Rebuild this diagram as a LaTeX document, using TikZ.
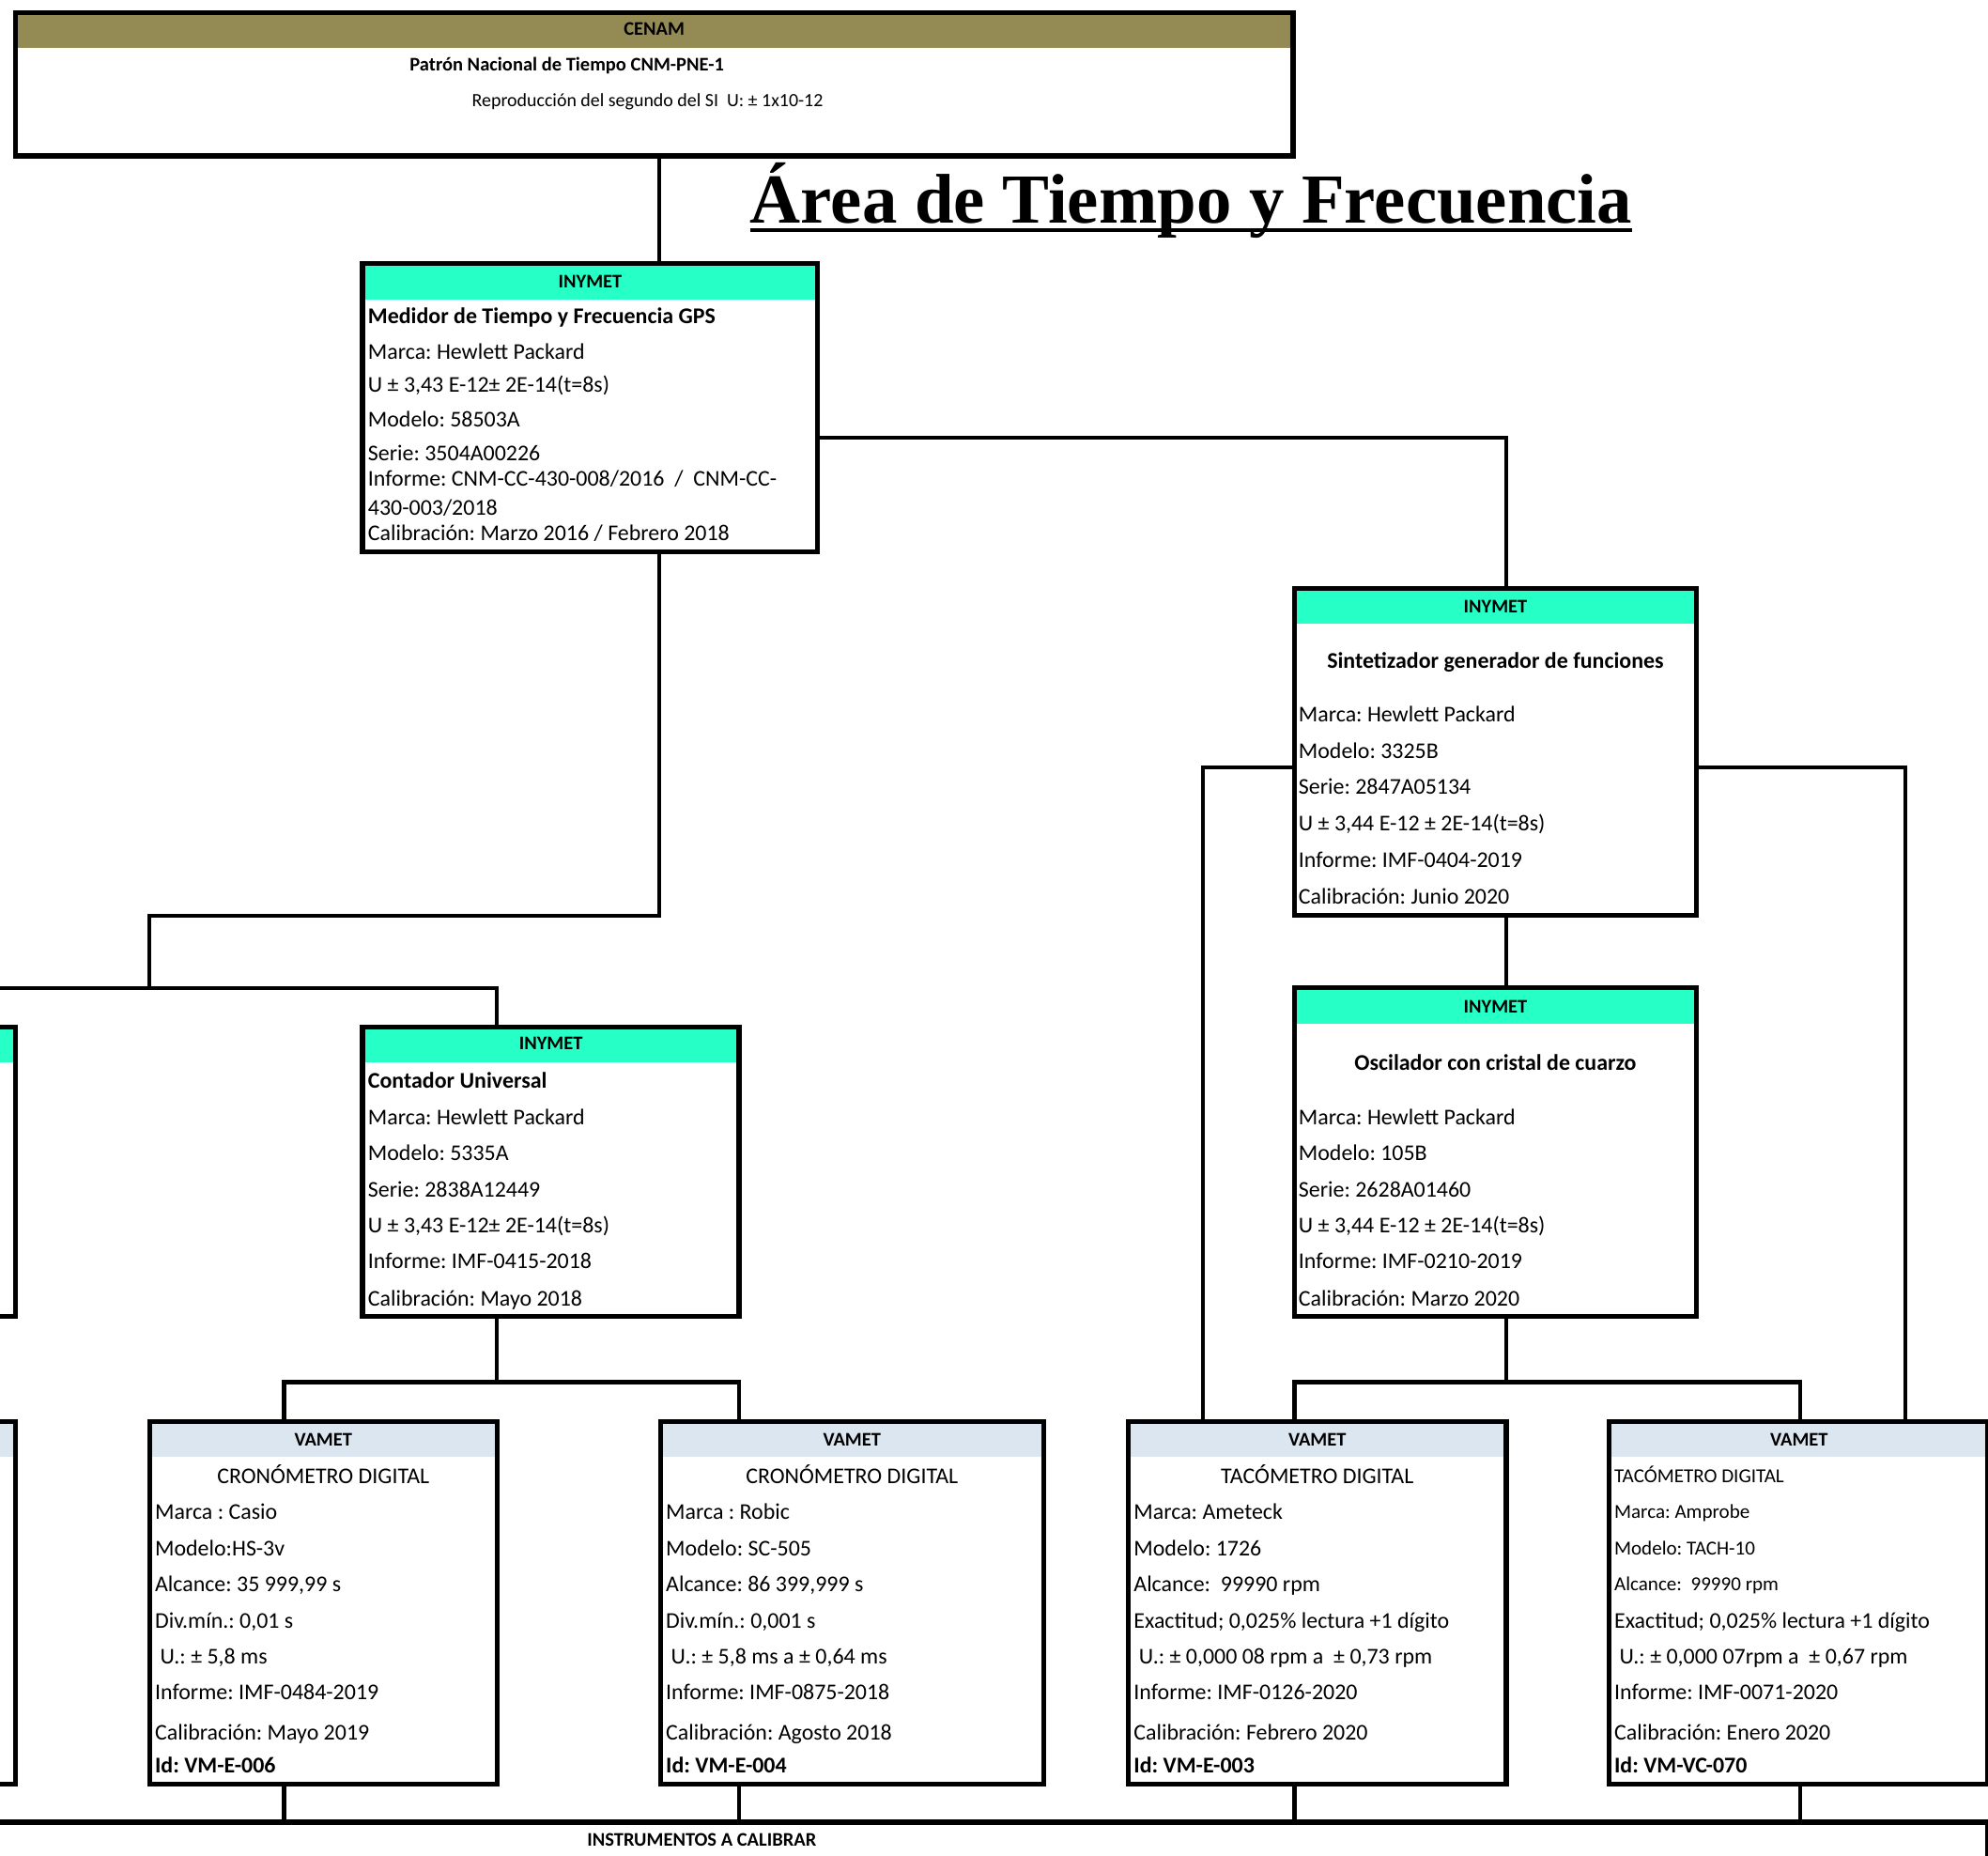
\documentclass[tikz,border=0pt]{standalone}
\usepackage{fontspec}
\setmainfont{Carlito}
\newfontfamily\titlefont{Liberation Serif}
\usetikzlibrary{calc,positioning,fit}
\frenchspacing

\definecolor{cenamolive}{HTML}{948A54}
\definecolor{inymetgreen}{HTML}{26FFC6}
\definecolor{vametblue}{HTML}{DCE6F1}

\begin{document}
\begin{tikzpicture}[x=0.025cm, y=-0.025cm]
    \tikzstyle{box}=[draw, line width=2.8pt, inner sep=0pt]
    \tikzstyle{link}=[line width=2.3pt]
    \tikzstyle{txt}=[inner sep=0pt, anchor=base west, font=\fontsize{12.6}{15}\selectfont]
    \tikzstyle{small txt}=[txt, font=\fontsize{11.1}{13}\selectfont]
    \tikzstyle{hd}=[inner sep=0pt, anchor=base, font=\fontsize{10.8}{13}\selectfont\bfseries]
    \tikzset{head/.style={path picture={
      \fill[#1] (path picture bounding box.north west) rectangle ([yshift=-0.7cm]path picture bounding box.north east);}}}

    \useasboundingbox (0,0) rectangle (1568,1463);
    \clip (0,0) rectangle (1568,1463);

    % boxes
    \node[box, head=cenamolive, fit={(12,10) (1020,123)}] (cenam) {};
    \node[box, head=inymetgreen, fit={(286,208) (645,435)}] (gps) {};
    \node[box, head=inymetgreen, fit={(1021,464) (1338,722)}] (sint) {};
    \node[box, head=inymetgreen, fit={(1021,779) (1338,1038)}] (osc) {};
    \node[box, head=inymetgreen, fit={(286,810) (583,1038)}] (cont) {};
    \node[box, head=inymetgreen, fit={(-60,810) (12,1038)}] (leftA) {};
    \node[box, head=vametblue, fit={(-60,1121) (12,1407)}] (leftB) {};
    \node[box, head=vametblue, fit={(118,1121) (392,1407)}] (cronA) {};
    \node[box, head=vametblue, fit={(521,1121) (823,1407)}] (cronB) {};
    \node[box, head=vametblue, fit={(890,1121) (1188,1407)}] (tacA) {};
    \node[box, head=vametblue, fit={(1269,1121) (1568,1407)}] (tacB) {};
    \node[box, fit={(-60,1437) (1568,1520)}] (instr) {};

    % connectors
    \coordinate (gpsturn) at (118,722);
    \coordinate (leftbus) at (118,779);
    \coordinate (contbus) at (392,1090);
    \coordinate (oscbus) at (1188,1090);
    \draw[link] (cenam.south -| 520,0) -- (gps.north -| 520,0);
    \draw[link] (gps.east |- 0,345) -| (sint.north -| 1188,0);
    \draw[link] (gps.south -| 520,0) |- (gpsturn) -- (leftbus);
    \draw[link] (leftbus -| 0,0) -| (cont.north -| 392,0);
    \draw[link] (cont.south -| contbus) -- (contbus);
    \draw[link] (cronA.north -| 224,0) |- (contbus) -| (cronB.north -| 583,0);
    \draw[link] (sint.west |- 0,605) -| (tacA.north -| 949,0);
    \draw[link] (sint.east |- 0,605) -| (tacB.north -| 1503,0);
    \draw[link] (sint.south -| oscbus) -- (osc.north -| oscbus);
    \draw[link] (osc.south -| oscbus) -- (oscbus);
    \draw[link] (tacA.north -| 1021,0) |- (oscbus) -| (tacB.north -| 1420,0);
    \foreach \b/\x in {cronA/224, cronB/583, tacA/1021, tacB/1420} {
      \draw[link] (\b.south -| \x,0) -- (instr.north -| \x,0);
    }

    % CENAM
    \node[hd] (cenam-h) at (516,28) {CENAM};
    \node[hd, anchor=base west] (cenam-1) at (323,56) {Patrón Nacional de Tiempo CNM-PNE-1};
    \node[txt, font=\fontsize{10.5}{13}\selectfont] (cenam-2) at (372,84) {Reproducción del segundo del SI\ \ U: ± 1x10-12};

    % title
    \node[inner sep=0pt, anchor=base, font=\titlefont\fontsize{39.4}{45}\selectfont\bfseries] (title) at (939.5,176) {Área de Tiempo y Frecuencia};
    \draw[line width=2.2pt] ([yshift=-4pt]title.base west) -- ([yshift=-4pt]title.base east);

    % INYMET
    \foreach \b/\x/\y in {gps/465.5/227, sint/1179.5/483, osc/1179.5/799, cont/434.5/828} {
      \node[hd] (\b-h) at (\x,\y) {INYMET};
    }
    \foreach \y/\t [count=\i] in {249/{\bfseries Medidor de Tiempo y Frecuencia GPS}, 277/{Marca: Hewlett Packard},
      303/{U ± 3,43 E-12± 2E-14(t=8s)}, 331/{Modelo: 58503A}, 357/{Serie: 3504A00226},
      377/{Informe: CNM-CC-430-008/2016\ \ /\ \ CNM-CC-}, 400/{430-003/2018},
      420/{Calibración: Marzo 2016 / Febrero 2018}} {
      \node[txt] (gps-\i) at (290,\y+6) {\t};
    }
    \node[txt, anchor=base, font=\fontsize{12.6}{15}\selectfont\bfseries] (sint-t) at (1179.5,527) {Sintetizador generador de funciones};
    \foreach \y/\t [count=\i] in {563/{Marca: Hewlett Packard}, 592/{Modelo: 3325B}, 620/{Serie: 2847A05134},
      649/{U ± 3,44 E-12 ± 2E-14(t=8s)}, 678/{Informe: IMF-0404-2019}, 707/{Calibración: Junio 2020}} {
      \node[txt] (sint-\i) at (1024,\y+6) {\t};
    }
    \node[txt, anchor=base, font=\fontsize{12.6}{15}\selectfont\bfseries] (osc-t) at (1179.5,844) {Oscilador con cristal de cuarzo};
    \foreach \y/\t [count=\i] in {881/{Marca: Hewlett Packard}, 909/{Modelo: 105B}, 938/{Serie: 2628A01460},
      966/{U ± 3,44 E-12 ± 2E-14(t=8s)}, 994/{Informe: IMF-0210-2019}, 1024/{Calibración: Marzo 2020}} {
      \node[txt] (osc-\i) at (1024,\y+6) {\t};
    }
    \foreach \y/\t [count=\i] in {852/{\bfseries Contador Universal}, 881/{Marca: Hewlett Packard}, 909/{Modelo: 5335A},
      938/{Serie: 2838A12449}, 966/{U ± 3,43 E-12± 2E-14(t=8s)}, 994/{Informe: IMF-0415-2018},
      1024/{Calibración: Mayo 2018}} {
      \node[txt] (cont-\i) at (290,\y+6) {\t};
    }

    % VAMET
    \foreach \b/\x in {cronA/255, cronB/672, tacA/1039, tacB/1419} {
      \node[hd] (\b-h) at (\x,1140) {VAMET};
    }
    \node[txt, anchor=base] (cronA-t) at (255,1170) {CRONÓMETRO DIGITAL};
    \foreach \y/\t [count=\i] in {1192/{Marca : Casio}, 1221/{Modelo:HS-3v}, 1249/{Alcance: 35 999,99 s},
      1278/{Div.mín.: 0,01 s}, 1306/{\ U.: ± 5,8 ms}, 1334/{Informe: IMF-0484-2019},
      1366/{Calibración: Mayo 2019}, 1392/{\bfseries Id: VM-E-006}} {
      \node[txt] (cronA-\i) at (122,\y+6) {\t};
    }
    \node[txt, anchor=base] (cronB-t) at (672,1170) {CRONÓMETRO DIGITAL};
    \foreach \y/\t [count=\i] in {1192/{Marca : Robic}, 1221/{Modelo: SC-505}, 1249/{Alcance: 86 399,999 s},
      1278/{Div.mín.: 0,001 s}, 1306/{\ U.: ± 5,8 ms a ± 0,64 ms}, 1334/{Informe: IMF-0875-2018},
      1366/{Calibración: Agosto 2018}, 1392/{\bfseries Id: VM-E-004}} {
      \node[txt] (cronB-\i) at (525,\y+6) {\t};
    }
    \node[txt, anchor=base] (tacA-t) at (1039,1170) {TACÓMETRO DIGITAL};
    \foreach \y/\t [count=\i] in {1192/{Marca: Ameteck}, 1221/{Modelo: 1726}, 1249/{Alcance:\ \ 99990 rpm},
      1278/{Exactitud; 0,025\% lectura +1 dígito}, 1306/{\ U.: ± 0,000 08 rpm a\ \ ± 0,73 rpm},
      1334/{Informe: IMF-0126-2020}, 1366/{Calibración: Febrero 2020}, 1392/{\bfseries Id: VM-E-003}} {
      \node[txt] (tacA-\i) at (894,\y+6) {\t};
    }
    \foreach \y/\t [count=\i] in {1164/{TACÓMETRO DIGITAL}, 1192/{Marca: Amprobe}, 1221/{Modelo: TACH-10},
      1249/{Alcance:\ \ 99990 rpm}} {
      \node[small txt] (tacB-s\i) at (1273,\y+5) {\t};
    }
    \foreach \y/\t [count=\i] in {1278/{Exactitud; 0,025\% lectura +1 dígito}, 1306/{\ U.: ± 0,000 07rpm a\ \ ± 0,67 rpm},
      1334/{Informe: IMF-0071-2020}, 1366/{Calibración: Enero 2020}, 1392/{\bfseries Id: VM-VC-070}} {
      \node[txt] (tacB-\i) at (1273,\y+6) {\t};
    }

    \node[hd, anchor=base west] (instr-t) at (463,1456) {INSTRUMENTOS A CALIBRAR};
\end{tikzpicture}
\end{document}
